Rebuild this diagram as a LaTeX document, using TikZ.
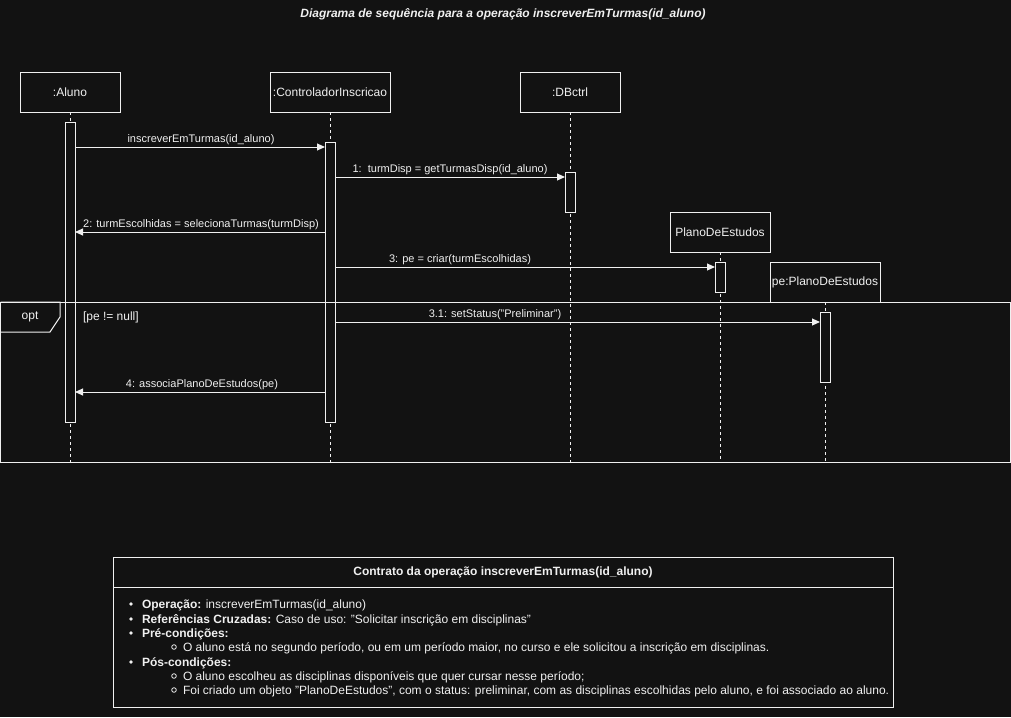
\documentclass[tikz,border=0pt]{standalone}
\usepackage{fontspec}
\setmainfont{Liberation Sans}
\usetikzlibrary{arrows.meta}
\definecolor{bg}{HTML}{121212}
\definecolor{fg}{HTML}{F0F0F0}

\begin{document}
\begin{tikzpicture}[x=1pt,y=-1pt,
  every node/.style={text=fg, inner sep=0pt, outer sep=0pt},
  lifebox/.style={draw=fg, line width=1pt, fill=bg, minimum height=40pt, font=\fontsize{12}{14}\selectfont},
  actbar/.style={draw=fg, line width=1pt, fill=bg, minimum width=10pt},
  lifeline/.style={draw=fg, line width=0.8pt, dash pattern=on 3pt off 3pt},
  msg/.style={draw=fg, line width=1pt, -{Triangle[length=8pt,width=7pt]}},
  msglabel/.style={anchor=base, font=\fontsize{11}{13}\selectfont},
  frameline/.style={draw=fg, line width=1pt},
  itemtext/.style={anchor=base west, font=\fontsize{12}{14}\selectfont},
]
% canvas
\useasboundingbox (0,0) rectangle (1011,717);
\fill[bg] (0,0) rectangle (1011,717);

% title
\node[font=\fontsize{12}{14}\selectfont\bfseries\itshape] (title) at (503,14) {Diagrama de sequência para a operação inscreverEmTurmas(id\_aluno)};

% participants
\node[lifebox, minimum width=100pt] (aluno) at (70,92) {:Aluno};
\node[lifebox, minimum width=120pt] (ctrl) at (330,92) {:ControladorInscricao};
\node[lifebox, minimum width=100pt] (db) at (570,92) {:DBctrl};
\node[lifebox, minimum width=100pt] (plano) at (720,232) {PlanoDeEstudos};
\node[lifebox, minimum width=110pt] (pe) at (825,282) {pe:PlanoDeEstudos};

% lifeline ends
\coordinate (alunoEnd) at (70,462);
\coordinate (ctrlEnd) at (330,462);
\coordinate (dbEnd) at (570,462);
\coordinate (planoEnd) at (720,462);
\coordinate (peEnd) at (825,462);

\draw[lifeline] (aluno.south) -- (alunoEnd);
\draw[lifeline] (ctrl.south) -- (ctrlEnd);
\draw[lifeline] (db.south) -- (dbEnd);
\draw[lifeline] (plano.south) -- (planoEnd);
\draw[lifeline] (pe.south) -- (peEnd);

% activation bars
\node[actbar, minimum height=300pt] (actAluno) at (70,272) {};
\node[actbar, minimum height=280pt] (actCtrl) at (330,282) {};
\node[actbar, minimum height=40pt] (actDb) at (570,192) {};
\node[actbar, minimum height=30pt] (actPlano) at (720,277) {};
\node[actbar, minimum height=70pt] (actPe) at (825,347) {};

% message rows
\coordinate (m0) at (0,147);
\coordinate (m1) at (0,177);
\coordinate (m2) at (0,232);
\coordinate (m3) at (0,267);
\coordinate (m4) at (0,322);
\coordinate (m5) at (0,392);

\draw[msg] (actAluno.east |- m0) -- (actCtrl.west |- m0);
\node[msglabel] (l0) at (201,142) {inscreverEmTurmas(id\_aluno)};

\draw[msg] (actCtrl.east |- m1) -- (actDb.west |- m1);
\node[msglabel] (l1) at (450,172) {1:\ \ turmDisp = getTurmasDisp(id\_aluno)};

\draw[msg] (actCtrl.west |- m2) -- (actAluno.east |- m2);
\node[msglabel] (l2) at (201,227) {2: turmEscolhidas = selecionaTurmas(turmDisp)};

\draw[msg] (actCtrl.east |- m3) -- (actPlano.west |- m3);
\node[msglabel] (l3) at (460,262) {3: pe = criar(turmEscolhidas)};

\draw[msg] (actCtrl.east |- m4) -- (actPe.west |- m4);
\node[msglabel] (l4) at (495,317) {3.1: setStatus("Preliminar")};

\draw[msg] (actCtrl.west |- m5) -- (actAluno.east |- m5);
\node[msglabel] (l5) at (202,387) {4: associaPlanoDeEstudos(pe)};

% opt combined fragment
\draw[frameline] (0.5,302) rectangle (1010.5,462);
\draw[frameline] (0.5,302) -- (60,302) -- (60,317) -- (50,332) -- (0.5,332);
\node[font=\fontsize{12}{14}\selectfont] (optlabel) at (30,317) {opt};
\node[anchor=west, font=\fontsize{12}{14}\selectfont] (guard) at (83,317) {[pe != null]};

% operation contract
\draw[frameline] (113,557) rectangle (893,707);
\draw[frameline] (113,587) -- (893,587);
\node[font=\fontsize{12}{14}\selectfont\bfseries] (contract) at (503,572) {Contrato da operação inscreverEmTurmas(id\_aluno)};

\foreach \yy in {604,619,633,662} {\fill[fg] (131,\yy) circle (1.8pt);}
\foreach \yy in {647,676,690} {\draw[fg, line width=0.8pt] (174,\yy) circle (2.3pt);}

\node[itemtext] (i1) at (142,608) {\textbf{Operação:} inscreverEmTurmas(id\_aluno)};
\node[itemtext] (i2) at (142,623) {\textbf{Referências Cruzadas:} Caso de uso: "Solicitar inscrição em disciplinas"};
\node[itemtext] (i3) at (142,637) {\textbf{Pré-condições:}};
\node[itemtext] (i4) at (183,651) {O aluno está no segundo período, ou em um período maior, no curso e ele solicitou a inscrição em disciplinas.};
\node[itemtext] (i5) at (142,666) {\textbf{Pós-condições:}};
\node[itemtext] (i6) at (183,680) {O aluno escolheu as disciplinas disponíveis que quer cursar nesse período;};
\node[itemtext] (i7) at (183,694) {Foi criado um objeto "PlanoDeEstudos", com o status: preliminar, com as disciplinas escolhidas pelo aluno, e foi associado ao aluno.};
\end{tikzpicture}
\end{document}
